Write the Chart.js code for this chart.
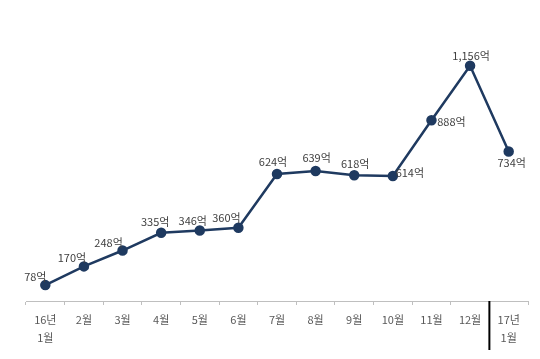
<!DOCTYPE html>
<html>
<head>
<meta charset="utf-8">
<script src="https://cdn.jsdelivr.net/npm/chart.js@4"></script>
<style>
  html, body { margin: 0; padding: 0; background: #ffffff; }
  #wrap { width: 540px; height: 359px; position: relative; }
</style>
</head>
<body>
<div id="wrap"><canvas id="c" width="540" height="359"></canvas></div>
<script>
const categories = [
  ['16년', '1월'], '2월', '3월', '4월', '5월', '6월', '7월', '8월', '9월', '10월', '11월', '12월', ['17년', '1월']
];
const values = [78, 170, 248, 335, 346, 360, 624, 639, 618, 614, 888, 1156, 734];
const unitSuffix = '억';

// label placement (style): offset of label centre from the point, in px
const labelOffsets = [
  [-10, -8], [-12, -9], [-14, -8], [-6, -11], [-7, -10], [-12, -10], [-4, -12],
  [1, -13], [1, -11], [17, -3], [20, 2], [1, -10], [3, 11]
];

const FONT = '"Noto Sans CJK KR", "Noto Sans", sans-serif';

const valueLabels = {
  id: 'valueLabels',
  afterDatasetsDraw(chart) {
    const ctx = chart.ctx;
    const meta = chart.getDatasetMeta(0);
    ctx.save();
    ctx.font = '11px ' + FONT;
    ctx.fillStyle = '#404040';
    ctx.textAlign = 'center';
    ctx.textBaseline = 'middle';
    meta.data.forEach((pt, i) => {
      const v = values[i];
      const txt = v.toLocaleString('en-US') + unitSuffix;
      const o = labelOffsets[i];
      ctx.fillText(txt, pt.x + o[0], pt.y + o[1]);
    });
    ctx.restore();
  }
};

const yearDivider = {
  id: 'yearDivider',
  afterDraw(chart) {
    const x = chart.scales.x;
    const px = (x.getPixelForValue(11) + x.getPixelForValue(12)) / 2;
    const ctx = chart.ctx;
    ctx.save();
    ctx.strokeStyle = '#000000';
    ctx.lineWidth = 2;
    ctx.beginPath();
    ctx.moveTo(px, chart.chartArea.bottom);
    ctx.lineTo(px, chart.chartArea.bottom + 49);
    ctx.stroke();
    ctx.restore();
  }
};

new Chart(document.getElementById('c'), {
  type: 'line',
  data: {
    labels: categories,
    datasets: [{
      data: values,
      borderColor: '#1f3a60',
      backgroundColor: '#1f3a60',
      borderWidth: 2.5,
      pointRadius: 4,
      pointHoverRadius: 4,
      pointBackgroundColor: '#1f3a60',
      pointBorderColor: '#1f3a60',
      tension: 0,
      fill: false
    }]
  },
  options: {
    responsive: false,
    animation: false,
    devicePixelRatio: 1,
    layout: { padding: { left: 26, right: 12, top: 16, bottom: 0 } },
    plugins: {
      legend: { display: false },
      tooltip: { enabled: false },
      title: { display: false }
    },
    scales: {
      x: {
        type: 'category',
        offset: true,
        afterFit(scale) { scale.height = 58; },
        grid: {
          display: true,
          drawOnChartArea: false,
          drawTicks: true,
          tickLength: 4,
          color: '#bfbfbf',
          offset: true
        },
        border: { display: true, color: '#bfbfbf', width: 1 },
        ticks: {
          autoSkip: false,
          maxRotation: 0,
          minRotation: 0,
          padding: 6,
          color: '#595959',
          font: { family: FONT, size: 11, lineHeight: 1.6 }
        }
      },
      y: {
        display: false,
        min: 0,
        max: 1400
      }
    }
  },
  plugins: [valueLabels, yearDivider]
});
</script>
</body>
</html>
